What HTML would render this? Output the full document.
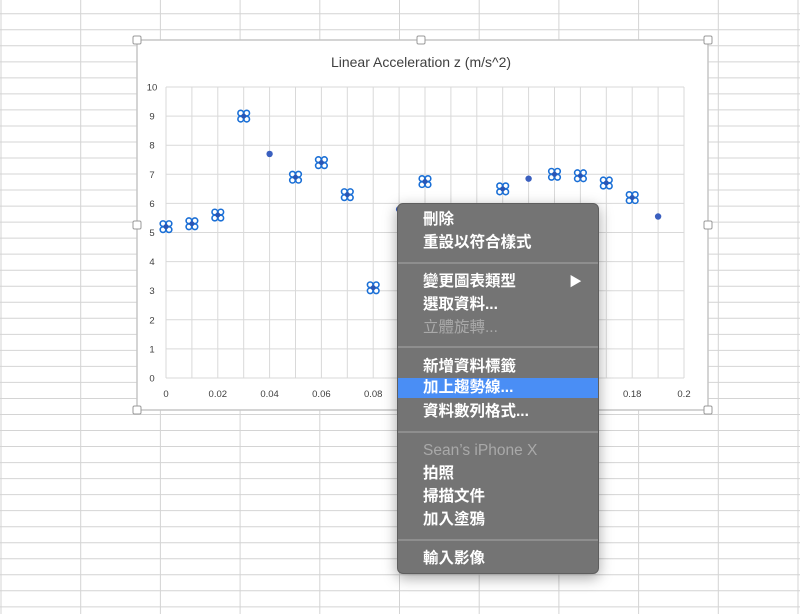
<!DOCTYPE html>
<html><head><meta charset="utf-8">
<style>
html,body{margin:0;padding:0;width:800px;height:614px;overflow:hidden;background:#fff;font-family:"Liberation Sans","Noto Sans CJK TC",sans-serif;}
#menu{position:absolute;left:397px;top:203px;width:202px;height:371px;background:#747474;border-radius:6px;border:1px solid #5e5e5e;box-sizing:border-box;box-shadow:0 4px 14px rgba(0,0,0,0.35);}
.it{position:absolute;left:0;width:200px;height:22px;line-height:22px;padding-left:25px;box-sizing:border-box;color:#fff;font-size:15.5px;font-weight:bold;font-family:"Liberation Sans","Noto Sans CJK TC",sans-serif;}
.dis{color:#a9a9a9;font-weight:normal;}
.hl{background:#4a8ef5;}
.sep{position:absolute;left:0;width:200px;height:2px;background:#8e8e8e;}
</style></head><body>
<svg id="chart" width="800" height="614" style="position:absolute;left:0;top:0">
<g id="sheetgrid"></g>
<rect x="137" y="40" width="571" height="370" fill="#fff" stroke="#c6c6c6" stroke-width="1.5"/>
<g id="handles"></g>
<text x="421" y="67" text-anchor="middle" font-size="14" fill="#404040" font-family="Liberation Sans,sans-serif">Linear Acceleration z (m/s^2)</text>
<g id="plotgrid"></g>
<g id="ticks"></g>
<g id="marks"></g>
</svg>
<div id="menu">
<div class="it" style="top:5px">刪除</div>
<div class="it" style="top:28px">重設以符合樣式</div>
<div class="sep" style="top:58px"></div>
<div class="it" style="top:67px">變更圖表類型<span style="position:absolute;right:16px;font-size:13px">▶</span></div>
<div class="it" style="top:90px">選取資料...</div>
<div class="it dis" style="top:113px">立體旋轉...</div>
<div class="sep" style="top:142px"></div>
<div class="it" style="top:152px">新增資料標籤</div>
<div class="it hl" style="top:174px;height:20px;line-height:20px">加上趨勢線...</div>
<div class="it" style="top:197px">資料數列格式...</div>
<div class="sep" style="top:227px"></div>
<div class="it dis" style="top:236px">Sean’s iPhone X</div>
<div class="it" style="top:259px">拍照</div>
<div class="it" style="top:282px">掃描文件</div>
<div class="it" style="top:305px">加入塗鴉</div>
<div class="sep" style="top:335px"></div>
<div class="it" style="top:344px">輸入影像</div>
</div>
<script>
const xValues=[0,0.01,0.02,0.03,0.04,0.05,0.06,0.07,0.08,0.09,0.1,0.11,0.12,0.13,0.14,0.15,0.16,0.17,0.18,0.19];
const yValues=[5.2,5.3,5.6,9.0,7.7,6.9,7.4,6.3,3.1,5.8,6.75,5.5,5.0,6.5,6.85,7.0,6.95,6.7,6.2,5.55];
const selected=[1,1,1,1,0,1,1,1,1,0,1,1,1,1,0,1,1,1,1,0];
const xTicks=[0,0.02,0.04,0.06,0.08,0.1,0.12,0.14,0.16,0.18,0.2];
const yTicks=[0,1,2,3,4,5,6,7,8,9,10];
const NS="http://www.w3.org/2000/svg";
const X0=166,X1=684,Y0=378,Y1=87;
function sx(v){return X0+(v-0)/(0.2)*(X1-X0);}
function sy(v){return Y0-(v/10)*(Y0-Y1);}
function mk(t,a,p){const e=document.createElementNS(NS,t);for(const k in a)e.setAttribute(k,a[k]);p.appendChild(e);return e;}
const sg=document.getElementById('sheetgrid');
for(let x=1;x<800;x+=79.7){const l=mk('line',{x1:x,y1:0,x2:x,y2:614,stroke:'#d4d4d4','stroke-width':1},sg);

}
for(let y=13.7-16;y<614;y+=16.03){if(y<0)continue;const l=mk('line',{x1:0,y1:y,x2:800,y2:y,stroke:'#d4d4d4','stroke-width':1},sg);

}
const hg=document.getElementById('handles');
[[137,40],[421,40],[708,40],[137,225],[708,225],[137,410],[421,410],[708,410]].forEach(p=>{const r=mk('rect',{x:p[0]-4,y:p[1]-4,width:8,height:8,rx:1.5,fill:'#fff',stroke:'#9a9a9a'},hg);

});
const pg=document.getElementById('plotgrid');
for(let i=0;i<=20;i++){const x=sx(i*0.01);const l=mk('line',{x1:x,y1:Y1,x2:x,y2:Y0,stroke:'#d9d9d9'},pg);

}
yTicks.forEach(v=>{const l=mk('line',{x1:X0,y1:sy(v),x2:X1,y2:sy(v),stroke:'#d9d9d9'},pg);

});
const tg=document.getElementById('ticks');
yTicks.forEach(v=>{const t=mk('text',{x:152,y:sy(v)+3.5,'text-anchor':'middle','font-size':9.5,fill:'#404040','font-family':'Liberation Sans,sans-serif'},tg);t.textContent=v;

});
xTicks.forEach(v=>{const t=mk('text',{x:sx(v),y:397,'text-anchor':'middle','font-size':9.5,fill:'#404040','font-family':'Liberation Sans,sans-serif'},tg);t.textContent=String(+v.toFixed(2));

});
const mg=document.getElementById('marks');
xValues.forEach((xv,i)=>{const cx=sx(xv),cy=sy(yValues[i]);
if(selected[i]){const g=mk('g',{},mg);


[[-3,-3],[3,-3],[-3,3],[3,3]].forEach(d=>mk('circle',{cx:cx+d[0],cy:cy+d[1],r:2.8,fill:'#fff',stroke:'#1a6fd6','stroke-width':1.6},g));
mk('circle',{cx:cx,cy:cy,r:2.5,fill:'#2a56b5'},g);}
else{const c=mk('circle',{cx:cx,cy:cy,r:3.2,fill:'#3a5fbf'},mg);

}});
</script>
</body></html>
